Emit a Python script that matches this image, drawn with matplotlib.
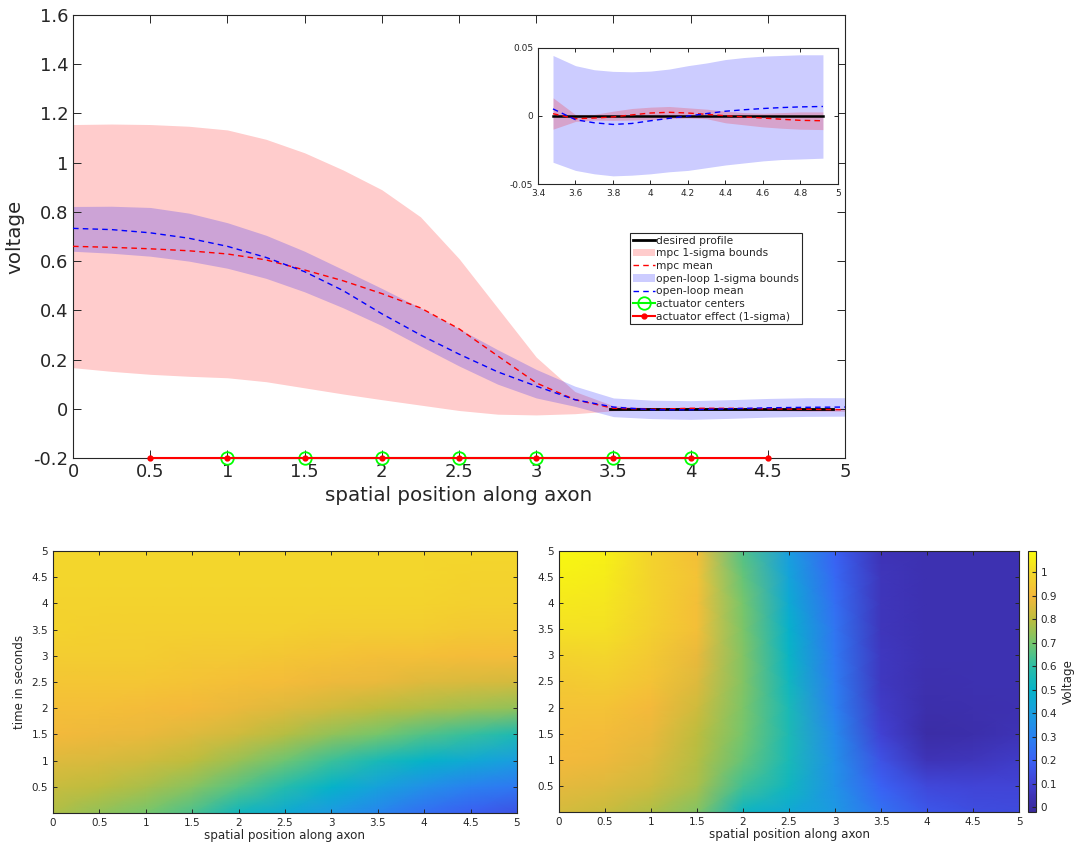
import numpy as np
import matplotlib
matplotlib.use('Agg')
import matplotlib.pyplot as plt
from matplotlib.colors import LinearSegmentedColormap
from matplotlib.ticker import FormatStrFormatter

# ---- top panel: voltage profile along the axon
x = [0, 0.25, 0.5, 0.75, 1, 1.25, 1.5, 1.75, 2, 2.25, 2.5, 2.75, 3, 3.25, 3.5,
     3.75, 4, 4.25, 4.5, 4.75, 5]
mpc_hi = [1.155, 1.157, 1.155, 1.148, 1.133, 1.095, 1.04, 0.97, 0.89, 0.78, 0.61,
          0.41, 0.21, 0.07, 0.012, 0.004, 0.006, 0.005, 0.003, 0.003, 0.003]
mpc_lo = [0.167, 0.152, 0.14, 0.132, 0.126, 0.11, 0.085, 0.06, 0.037, 0.015, -0.007,
          -0.022, -0.025, -0.02, -0.008, -0.004, -0.003, -0.002, -0.007, -0.01, -0.01]
mpc_mean = [0.66, 0.656, 0.65, 0.642, 0.629, 0.605, 0.564, 0.52, 0.468, 0.41, 0.325,
            0.215, 0.105, 0.037, 0.002, -0.002, 0.002, 0.002, 0.0, -0.002, -0.004]
ol_hi = [0.822, 0.823, 0.818, 0.795, 0.756, 0.705, 0.64, 0.565, 0.489, 0.41, 0.325,
         0.24, 0.16, 0.092, 0.044, 0.035, 0.033, 0.037, 0.042, 0.045, 0.045]
ol_lo = [0.64, 0.632, 0.62, 0.6, 0.571, 0.53, 0.475, 0.41, 0.338, 0.255, 0.174,
         0.1, 0.044, 0.01, -0.032, -0.04, -0.043, -0.039, -0.034, -0.031, -0.03]
ol_mean = [0.733, 0.728, 0.715, 0.693, 0.66, 0.615, 0.557, 0.48, 0.386, 0.3, 0.222,
           0.15, 0.092, 0.037, 0.007, -0.004, -0.004, 0.0, 0.004, 0.006, 0.007]

des_x = [3.48, 4.92]
des_v = [0, 0]

act_centers = [1, 1.5, 2, 2.5, 3, 3.5, 4]
act_effect = [0.5, 1, 1.5, 2, 2.5, 3, 3.5, 4, 4.5]
act_level = -0.2

# ---- inset (zoom on the tail)
x_in = [3.48, 3.6, 3.7, 3.8, 3.9, 4.0, 4.1, 4.2, 4.3, 4.4, 4.5, 4.6, 4.7, 4.8, 4.92]
ol_hi_in = [0.0445, 0.037, 0.034, 0.0328, 0.0325, 0.033, 0.0345, 0.037, 0.039,
            0.0415, 0.043, 0.044, 0.0445, 0.045, 0.045]
ol_lo_in = [-0.034, -0.040, -0.0425, -0.044, -0.0435, -0.0425, -0.041, -0.040,
            -0.038, -0.036, -0.0345, -0.033, -0.032, -0.0316, -0.031]
mpc_hi_in = [0.0134, 0.001, 0.0012, 0.0035, 0.0055, 0.0065, 0.007, 0.006, 0.005,
             0.0035, 0.0025, 0.002, 0.0025, 0.003, 0.003]
mpc_lo_in = [-0.0097, -0.004, -0.003, -0.0032, -0.003, -0.0027, -0.002, -0.0015,
             -0.002, -0.005, -0.0065, -0.008, -0.009, -0.0097, -0.010]
ol_mean_in = [0.0052, -0.0027, -0.005, -0.0062, -0.0055, -0.0035, -0.0017, 0.0,
              0.0018, 0.0035, 0.0046, 0.0055, 0.0062, 0.0067, 0.007]
mpc_mean_in = [0.0017, -0.002, -0.0015, -0.0007, 0.0008, 0.0022, 0.0027, 0.0022,
               0.0012, 0.0002, -0.0007, -0.0015, -0.0024, -0.0032, -0.0035]

# ---- bottom panels: voltage over space (columns) and time (rows)
hx = [0, 0.5, 1, 1.5, 2, 2.5, 3, 3.5, 4, 4.5, 5]
ht = [0, 0.5, 1, 1.5, 2, 2.5, 3, 3.5, 4, 4.5, 5]
V_open = [
    [0.78, 0.74, 0.70, 0.64, 0.53, 0.46, 0.38, 0.31, 0.24, 0.19, 0.15],
    [0.82, 0.80, 0.77, 0.73, 0.66, 0.58, 0.50, 0.42, 0.35, 0.30, 0.27],
    [0.86, 0.85, 0.83, 0.80, 0.75, 0.69, 0.62, 0.55, 0.50, 0.45, 0.40],
    [0.90, 0.89, 0.88, 0.86, 0.83, 0.79, 0.74, 0.70, 0.65, 0.61, 0.56],
    [0.92, 0.92, 0.91, 0.90, 0.88, 0.86, 0.83, 0.80, 0.78, 0.76, 0.74],
    [0.94, 0.94, 0.94, 0.93, 0.92, 0.91, 0.89, 0.88, 0.86, 0.85, 0.84],
    [0.96, 0.96, 0.96, 0.95, 0.95, 0.94, 0.93, 0.92, 0.92, 0.91, 0.91],
    [0.98, 0.97, 0.97, 0.97, 0.97, 0.97, 0.96, 0.96, 0.96, 0.95, 0.95],
    [0.98, 0.98, 0.98, 0.98, 0.98, 0.98, 0.98, 0.98, 0.98, 0.97, 0.97],
    [0.99, 0.99, 0.99, 0.99, 0.99, 0.99, 0.99, 0.99, 0.99, 0.98, 0.98],
    [0.99, 0.99, 0.99, 0.99, 0.99, 0.99, 0.99, 0.99, 0.99, 0.99, 0.99],
]
V_mpc = [
    [0.84, 0.82, 0.78, 0.72, 0.52, 0.45, 0.38, 0.25, 0.17, 0.14, 0.13],
    [0.87, 0.86, 0.83, 0.77, 0.63, 0.53, 0.36, 0.20, 0.12, 0.11, 0.11],
    [0.90, 0.89, 0.86, 0.79, 0.68, 0.55, 0.35, 0.15, 0.05, 0.06, 0.08],
    [0.92, 0.91, 0.88, 0.80, 0.70, 0.56, 0.33, 0.10, 0.01, 0.02, 0.05],
    [0.93, 0.93, 0.90, 0.83, 0.71, 0.55, 0.30, 0.08, 0.02, 0.03, 0.04],
    [0.95, 0.96, 0.93, 0.86, 0.72, 0.53, 0.28, 0.07, 0.03, 0.04, 0.04],
    [0.98, 0.99, 0.95, 0.88, 0.72, 0.51, 0.27, 0.07, 0.04, 0.04, 0.04],
    [1.02, 1.02, 0.97, 0.92, 0.71, 0.49, 0.26, 0.06, 0.04, 0.04, 0.04],
    [1.04, 1.03, 0.98, 0.92, 0.70, 0.46, 0.24, 0.06, 0.04, 0.04, 0.04],
    [1.06, 1.05, 0.98, 0.93, 0.68, 0.43, 0.22, 0.06, 0.04, 0.04, 0.04],
    [1.08, 1.06, 0.98, 0.92, 0.65, 0.40, 0.20, 0.05, 0.04, 0.04, 0.04],
]
vmin, vmax = -0.02, 1.09

# parula-like colormap, anchors given as voltage values on the colour bar
cb_vals = [-0.02, 0.05, 0.1, 0.2, 0.3, 0.4, 0.5, 0.6, 0.7, 0.8, 0.9, 1.0, 1.09]
cb_cols = ['#3a2a9c', '#3e33b6', '#4142d4', '#3a62f5', '#2a82f0', '#1a9ee0',
           '#06b3c9', '#2dbea5', '#74c66d', '#bdbd3e', '#f4b83c', '#f3d92a', '#f9fb0e']
parula = LinearSegmentedColormap.from_list(
    'parula', [((v - vmin) / (vmax - vmin), c) for v, c in zip(cb_vals, cb_cols)])

axcol = '#262626'
plt.rcParams['font.family'] = 'DejaVu Sans'
plt.rcParams['text.color'] = axcol
plt.rcParams['axes.labelcolor'] = axcol


def matlab_axes(a, size, length):
    a.tick_params(direction='in', top=True, right=True, labelsize=size,
                  length=length, width=0.7, colors=axcol)
    for s in a.spines.values():
        s.set_color(axcol)
        s.set_linewidth(0.8)
    a.xaxis.set_major_formatter(FormatStrFormatter('%g'))
    a.yaxis.set_major_formatter(FormatStrFormatter('%g'))


fig = plt.figure(figsize=(10.79, 8.43), dpi=100)

# top panel
ax = fig.add_axes([0.0677, 0.4567, 0.7155, 0.5255])
ax.fill_between(x, mpc_lo, mpc_hi, color='r', alpha=0.2, lw=0, label='mpc 1-sigma bounds', zorder=1)
ax.fill_between(x, ol_lo, ol_hi, color='b', alpha=0.2, lw=0, label='open-loop 1-sigma bounds', zorder=1)
ax.plot(des_x, des_v, 'k-', lw=2, label='desired profile', zorder=3)
ax.plot(x, mpc_mean, '--', color='r', lw=1, dashes=(4, 3), label='mpc mean', zorder=4)
ax.plot(x, ol_mean, '--', color='b', lw=1, dashes=(4, 3), label='open-loop mean', zorder=4)
ax.plot(act_centers, [act_level] * len(act_centers), '-o', color=(0, 1, 0), mfc='none',
        ms=9, mew=1.3, lw=1.5, label='actuator centers', clip_on=False, zorder=5)
ax.plot(act_effect, [act_level] * len(act_effect), '-o', color='r', ms=3.5, lw=1.5,
        label='actuator effect (1-sigma)', clip_on=False, zorder=6)
ax.set_xlim(0, 5)
ax.set_ylim(-0.2, 1.6)
ax.set_xticks(np.arange(0, 5.01, 0.5))
ax.set_yticks(np.arange(-0.2, 1.61, 0.2))
matlab_axes(ax, 13, 6)
ax.set_xlabel('spatial position along axon', fontsize=14.3)
ax.set_ylabel('voltage', fontsize=14.3, labelpad=6)

h, l = ax.get_legend_handles_labels()
order = ['desired profile', 'mpc 1-sigma bounds', 'mpc mean', 'open-loop 1-sigma bounds',
         'open-loop mean', 'actuator centers', 'actuator effect (1-sigma)']
hl = dict(zip(l, h))
leg = ax.legend([hl[k] for k in order], order, loc='upper right',
                bbox_to_anchor=(0.944, 0.508), fontsize=7.7, fancybox=False,
                framealpha=1, edgecolor=axcol, handlelength=2.1, handletextpad=0.1,
                labelspacing=0.25, borderpad=0.25, borderaxespad=0)
leg.get_frame().set_linewidth(0.8)

# inset
ins = fig.add_axes([0.4986, 0.7817, 0.2780, 0.1614])
ins.fill_between(x_in, ol_lo_in, ol_hi_in, color='b', alpha=0.2, lw=0)
ins.fill_between(x_in, mpc_lo_in, mpc_hi_in, color='r', alpha=0.2, lw=0)
ins.plot(des_x, des_v, 'k-', lw=1.8)
ins.plot(x_in, mpc_mean_in, '--', color='r', lw=1, dashes=(4, 3))
ins.plot(x_in, ol_mean_in, '--', color='b', lw=1, dashes=(4, 3))
ins.set_xlim(3.4, 5)
ins.set_ylim(-0.05, 0.05)
ins.set_xticks(np.arange(3.4, 5.01, 0.2))
ins.set_yticks([-0.05, 0, 0.05])
matlab_axes(ins, 6.5, 3)

# bottom left heatmap
axl = fig.add_axes([0.0491, 0.0356, 0.4300, 0.3108])
axl.pcolormesh(hx, ht, V_open, shading='gouraud', cmap=parula, vmin=vmin, vmax=vmax)
axl.set_xlim(0, 5)
axl.set_ylim(0, 5)
axl.set_xticks(np.arange(0, 5.01, 0.5))
axl.set_yticks(np.arange(0.5, 5.01, 0.5))
matlab_axes(axl, 7.5, 3)
axl.set_xlabel('spatial position along axon', fontsize=8.6, labelpad=1)
axl.set_ylabel('time in seconds', fontsize=8.6, labelpad=4)

# bottom right heatmap
axr = fig.add_axes([0.5181, 0.0368, 0.4263, 0.3096])
m = axr.pcolormesh(hx, ht, V_mpc, shading='gouraud', cmap=parula, vmin=vmin, vmax=vmax)
axr.set_xlim(0, 5)
axr.set_ylim(0, 5)
axr.set_xticks(np.arange(0, 5.01, 0.5))
axr.set_yticks(np.arange(0.5, 5.01, 0.5))
matlab_axes(axr, 7.5, 3)
axr.set_xlabel('spatial position along axon', fontsize=8.6, labelpad=1)

cax = fig.add_axes([0.9527, 0.0368, 0.0074, 0.3096])
cb = fig.colorbar(m, cax=cax, ticks=np.arange(0, 1.01, 0.1), format='%g')
cb.ax.tick_params(labelsize=7.5, direction='in', length=3, colors=axcol)
cb.outline.set_edgecolor(axcol)
cb.set_label('Voltage', fontsize=8.6, labelpad=3)

fig.savefig('out.png', dpi=100)
